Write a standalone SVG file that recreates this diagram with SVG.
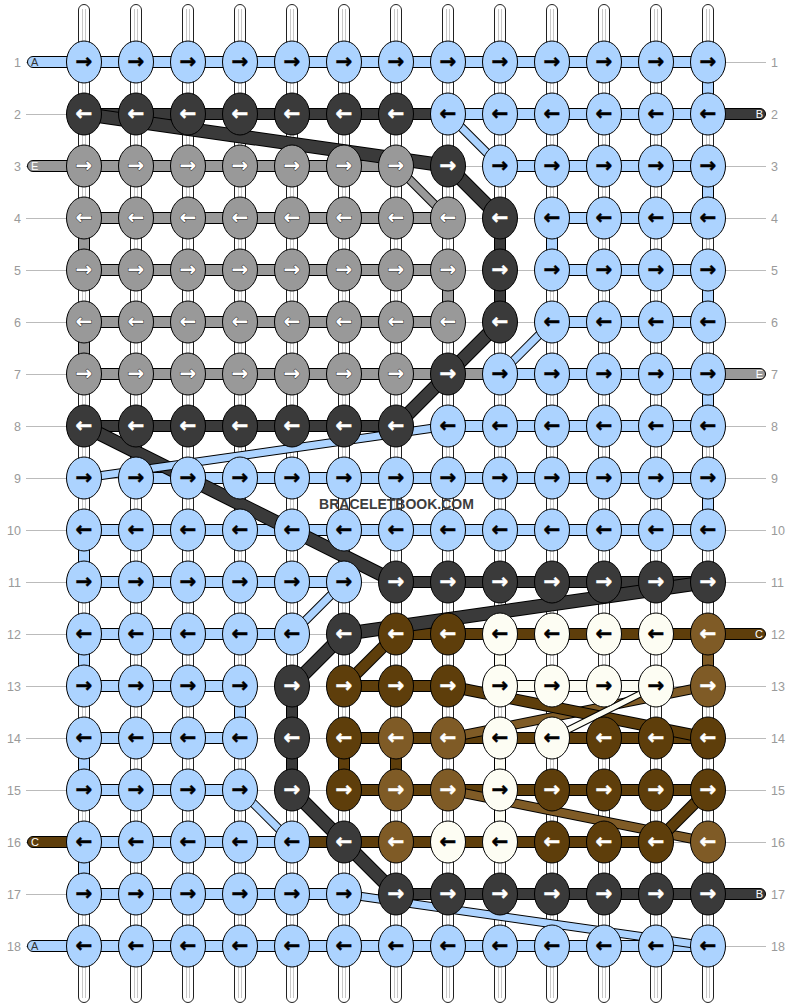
<svg xmlns="http://www.w3.org/2000/svg" width="792" height="1008" viewBox="0 0 792 1008">
<style>
.lbl{font-family:"Liberation Sans",Arial,sans-serif;font-size:12.5px;fill:#9a9a9a}
.lbl.l{text-anchor:end}
.rl{stroke:#bbb;stroke-width:1}
.st{fill:#fff;stroke:#222;stroke-width:1}
.si{stroke:#c8c8c8;stroke-width:1}
.bar{stroke:#000;stroke-width:1}
.cLB{fill:#acd3ff}.cD{fill:#3a3a3a}.cG{fill:#999}.cBR{fill:#5e3e0b}.cLBR{fill:#7f5b26}.cW{fill:#fdfdf3}
.dg path{fill:none;stroke-linecap:butt}
.o{stroke:#000}
.sLB{stroke:#acd3ff;stroke-width:7}.oLB{stroke-width:9}
.sD{stroke:#3a3a3a;stroke-width:12}.oD{stroke-width:14}
.sG{stroke:#999;stroke-width:7}.oG{stroke-width:9}
.sBR{stroke:#5e3e0b;stroke-width:10}.oBR{stroke-width:12}
.sLBR{stroke:#7f5b26;stroke-width:8}.oLBR{stroke-width:10}
.sW{stroke:#fdfdf3;stroke-width:5}.oW{stroke-width:7}
.k ellipse{stroke:#000;stroke-width:1}
.k text{font-family:"DejaVu Sans",sans-serif;font-weight:bold;font-size:20px;text-anchor:middle}
.lb ellipse{fill:#acd3ff}.lb text{fill:#000;stroke:#000;stroke-width:0.5}
.dk ellipse{fill:#3a3a3a}.dk text{fill:#fff;stroke:#fff;stroke-width:0.5}
.gr ellipse{fill:#999}.gr text{fill:#fff;stroke:#333;stroke-width:1;paint-order:stroke}
.br ellipse{fill:#5e3e0b}.br text{fill:#fff;stroke:#fff;stroke-width:0.5}
.lbr ellipse{fill:#7f5b26}.lbr text{fill:#fff;stroke:#fff;stroke-width:0.5}
.wh ellipse{fill:#fdfdf3}.wh text{fill:#000;stroke:#000;stroke-width:0.5}
.pl{font-family:"Liberation Sans",Arial,sans-serif;font-size:11px}
.pl.r{text-anchor:end}
.wm{font-family:"Liberation Sans",Arial,sans-serif;font-weight:bold;font-size:14px;fill:#3d3d3d;text-anchor:middle}
</style>
<rect width="792" height="1008" fill="#fff"/>
<g id="row-lines">
<path class="rl" d="M26 62.5H766M26 114.5H766M26 166.5H766M26 218.5H766M26 270.5H766M26 322.5H766M26 374.5H766M26 426.5H766M26 478.5H766M26 530.5H766M26 582.5H766M26 634.5H766M26 686.5H766M26 738.5H766M26 790.5H766M26 842.5H766M26 894.5H766M26 946.5H766"/>
</g>
<g id="row-numbers">
<text class="lbl l" x="21" y="66.5">1</text><text class="lbl" x="771" y="66.5">1</text>
<text class="lbl l" x="21" y="118.5">2</text><text class="lbl" x="771" y="118.5">2</text>
<text class="lbl l" x="21" y="170.5">3</text><text class="lbl" x="771" y="170.5">3</text>
<text class="lbl l" x="21" y="222.5">4</text><text class="lbl" x="771" y="222.5">4</text>
<text class="lbl l" x="21" y="274.5">5</text><text class="lbl" x="771" y="274.5">5</text>
<text class="lbl l" x="21" y="326.5">6</text><text class="lbl" x="771" y="326.5">6</text>
<text class="lbl l" x="21" y="378.5">7</text><text class="lbl" x="771" y="378.5">7</text>
<text class="lbl l" x="21" y="430.5">8</text><text class="lbl" x="771" y="430.5">8</text>
<text class="lbl l" x="21" y="482.5">9</text><text class="lbl" x="771" y="482.5">9</text>
<text class="lbl l" x="21" y="534.5">10</text><text class="lbl" x="771" y="534.5">10</text>
<text class="lbl l" x="21" y="586.5">11</text><text class="lbl" x="771" y="586.5">11</text>
<text class="lbl l" x="21" y="638.5">12</text><text class="lbl" x="771" y="638.5">12</text>
<text class="lbl l" x="21" y="690.5">13</text><text class="lbl" x="771" y="690.5">13</text>
<text class="lbl l" x="21" y="742.5">14</text><text class="lbl" x="771" y="742.5">14</text>
<text class="lbl l" x="21" y="794.5">15</text><text class="lbl" x="771" y="794.5">15</text>
<text class="lbl l" x="21" y="846.5">16</text><text class="lbl" x="771" y="846.5">16</text>
<text class="lbl l" x="21" y="898.5">17</text><text class="lbl" x="771" y="898.5">17</text>
<text class="lbl l" x="21" y="950.5">18</text><text class="lbl" x="771" y="950.5">18</text>
</g>
<g id="strands">
<rect class="st" x="78.5" y="4.5" width="11" height="998" rx="5.5"/><path class="si" d="M82.5 9V998M85.5 9V998"/>
<rect class="st" x="130.5" y="4.5" width="11" height="998" rx="5.5"/><path class="si" d="M134.5 9V998M137.5 9V998"/>
<rect class="st" x="182.5" y="4.5" width="11" height="998" rx="5.5"/><path class="si" d="M186.5 9V998M189.5 9V998"/>
<rect class="st" x="234.5" y="4.5" width="11" height="998" rx="5.5"/><path class="si" d="M238.5 9V998M241.5 9V998"/>
<rect class="st" x="286.5" y="4.5" width="11" height="998" rx="5.5"/><path class="si" d="M290.5 9V998M293.5 9V998"/>
<rect class="st" x="338.5" y="4.5" width="11" height="998" rx="5.5"/><path class="si" d="M342.5 9V998M345.5 9V998"/>
<rect class="st" x="390.5" y="4.5" width="11" height="998" rx="5.5"/><path class="si" d="M394.5 9V998M397.5 9V998"/>
<rect class="st" x="442.5" y="4.5" width="11" height="998" rx="5.5"/><path class="si" d="M446.5 9V998M449.5 9V998"/>
<rect class="st" x="494.5" y="4.5" width="11" height="998" rx="5.5"/><path class="si" d="M498.5 9V998M501.5 9V998"/>
<rect class="st" x="546.5" y="4.5" width="11" height="998" rx="5.5"/><path class="si" d="M550.5 9V998M553.5 9V998"/>
<rect class="st" x="598.5" y="4.5" width="11" height="998" rx="5.5"/><path class="si" d="M602.5 9V998M605.5 9V998"/>
<rect class="st" x="650.5" y="4.5" width="11" height="998" rx="5.5"/><path class="si" d="M654.5 9V998M657.5 9V998"/>
<rect class="st" x="702.5" y="4.5" width="11" height="998" rx="5.5"/><path class="si" d="M706.5 9V998M709.5 9V998"/>
</g>
<g id="connectors">
<g id="verticals">
<rect class="bar cLB" x="702.5" y="77" width="11" height="22"/>
<rect class="bar cLB" x="702.5" y="181" width="11" height="22"/>
<rect class="bar cLB" x="702.5" y="285" width="11" height="22"/>
<rect class="bar cLB" x="702.5" y="389" width="11" height="22"/>
<rect class="bar cLB" x="702.5" y="493" width="11" height="22"/>
<rect class="bar cLB" x="546.5" y="233" width="11" height="22"/>
<rect class="bar cLB" x="78.5" y="545" width="11" height="22"/>
<rect class="bar cLB" x="78.5" y="649" width="11" height="22"/>
<rect class="bar cLB" x="234.5" y="701" width="11" height="22"/>
<rect class="bar cLB" x="78.5" y="753" width="11" height="22"/>
<rect class="bar cLB" x="78.5" y="857" width="11" height="22"/>
<rect class="bar cG" x="78.5" y="233" width="11" height="22"/>
<rect class="bar cG" x="78.5" y="337" width="11" height="22"/>
<rect class="bar cG" x="442.5" y="285" width="11" height="22"/>
<rect class="bar cD" x="494.5" y="233" width="11" height="22"/>
<rect class="bar cD" x="494.5" y="285" width="11" height="22"/>
<rect class="bar cD" x="286.5" y="701" width="11" height="22"/>
<rect class="bar cD" x="286.5" y="753" width="11" height="22"/>
<rect class="bar cLBR" x="702.5" y="649" width="11" height="22"/>
<rect class="bar cBR" x="338.5" y="753" width="11" height="22"/>
<rect class="bar cBR" x="390.5" y="753" width="11" height="22"/>
<rect class="bar cW" x="494.5" y="649" width="11" height="22"/>
<rect class="bar cW" x="494.5" y="753" width="11" height="22"/>
<rect class="bar cW" x="494.5" y="805" width="11" height="22"/>
</g>
<g id="bars">
<rect class="bar cLB" x="84" y="56.5" width="624" height="11"/>
<rect class="bar cD" x="84" y="108.5" width="364" height="11"/>
<rect class="bar cLB" x="448" y="108.5" width="260" height="11"/>
<rect class="bar cG" x="84" y="160.5" width="312" height="11"/>
<rect class="bar cLB" x="500" y="160.5" width="208" height="11"/>
<rect class="bar cG" x="84" y="212.5" width="364" height="11"/>
<rect class="bar cLB" x="552" y="212.5" width="156" height="11"/>
<rect class="bar cG" x="84" y="264.5" width="364" height="11"/>
<rect class="bar cLB" x="552" y="264.5" width="156" height="11"/>
<rect class="bar cG" x="84" y="316.5" width="364" height="11"/>
<rect class="bar cLB" x="552" y="316.5" width="156" height="11"/>
<rect class="bar cG" x="84" y="368.5" width="416" height="11"/>
<rect class="bar cLB" x="500" y="368.5" width="208" height="11"/>
<rect class="bar cD" x="84" y="420.5" width="312" height="11"/>
<rect class="bar cLB" x="448" y="420.5" width="260" height="11"/>
<rect class="bar cLB" x="136" y="472.5" width="572" height="11"/>
<rect class="bar cLB" x="84" y="524.5" width="624" height="11"/>
<rect class="bar cLB" x="84" y="576.5" width="260" height="11"/>
<rect class="bar cD" x="396" y="576.5" width="312" height="11"/>
<rect class="bar cLB" x="84" y="628.5" width="208" height="11"/>
<rect class="bar cBR" x="396" y="628.5" width="312" height="11"/>
<rect class="bar cLB" x="84" y="680.5" width="156" height="11"/>
<rect class="bar cBR" x="344" y="680.5" width="104" height="11"/>
<rect class="bar cW" x="500" y="680.5" width="156" height="11"/>
<rect class="bar cLB" x="84" y="732.5" width="156" height="11"/>
<rect class="bar cBR" x="344" y="732.5" width="364" height="11"/>
<rect class="bar cLB" x="84" y="784.5" width="156" height="11"/>
<rect class="bar cBR" x="344" y="784.5" width="364" height="11"/>
<rect class="bar cLB" x="84" y="836.5" width="208" height="11"/>
<rect class="bar cBR" x="292" y="836.5" width="364" height="11"/>
<rect class="bar cLB" x="84" y="888.5" width="260" height="11"/>
<rect class="bar cD" x="396" y="888.5" width="312" height="11"/>
<rect class="bar cLB" x="84" y="940.5" width="624" height="11"/>
</g>
<g id="thread-ends">
<path class="bar cLB" d="M84 56.5H33a5.5 5.5 0 0 0 0 11H84Z"/><text class="pl" x="31" y="66" fill="#333">A</text>
<path class="bar cD" d="M708 108.5H760a5.5 5.5 0 0 1 0 11H708Z"/><text class="pl r" x="763" y="118" fill="#fff">B</text>
<path class="bar cG" d="M84 160.5H33a5.5 5.5 0 0 0 0 11H84Z"/><text class="pl" x="31" y="170" fill="#fff">E</text>
<path class="bar cG" d="M708 368.5H760a5.5 5.5 0 0 1 0 11H708Z"/><text class="pl r" x="763" y="378" fill="#fff">E</text>
<path class="bar cBR" d="M708 628.5H760a5.5 5.5 0 0 1 0 11H708Z"/><text class="pl r" x="763" y="638" fill="#fff">C</text>
<path class="bar cBR" d="M84 836.5H33a5.5 5.5 0 0 0 0 11H84Z"/><text class="pl" x="31" y="846" fill="#fff">C</text>
<path class="bar cD" d="M708 888.5H760a5.5 5.5 0 0 1 0 11H708Z"/><text class="pl r" x="763" y="898" fill="#fff">B</text>
<path class="bar cLB" d="M84 940.5H33a5.5 5.5 0 0 0 0 11H84Z"/><text class="pl" x="31" y="950" fill="#333">A</text>
</g>
<g id="diagonals" class="dg">
<path class="o oD" d="M84 114L448 166"/><path class="sD" d="M84 114L448 166"/>
<path class="o oLB" d="M448 114L500 166"/><path class="sLB" d="M448 114L500 166"/>
<path class="o oG" d="M396 166L448 218"/><path class="sG" d="M396 166L448 218"/>
<path class="o oD" d="M448 166L500 218"/><path class="sD" d="M448 166L500 218"/>
<path class="o oD" d="M500 322L448 374"/><path class="sD" d="M500 322L448 374"/>
<path class="o oLB" d="M552 322L500 374"/><path class="sLB" d="M552 322L500 374"/>
<path class="o oD" d="M448 374L396 426"/><path class="sD" d="M448 374L396 426"/>
<path class="o oD" d="M84 426L396 582"/><path class="sD" d="M84 426L396 582"/>
<path class="o oLB" d="M448 426L84 478"/><path class="sLB" d="M448 426L84 478"/>
<path class="o oLB" d="M344 582L292 634"/><path class="sLB" d="M344 582L292 634"/>
<path class="o oD" d="M708 582L344 634"/><path class="sD" d="M708 582L344 634"/>
<path class="o oD" d="M344 634L292 686"/><path class="sD" d="M344 634L292 686"/>
<path class="o oBR" d="M396 634L344 686"/><path class="sBR" d="M396 634L344 686"/>
<path class="o oLBR" d="M708 686L448 738"/><path class="sLBR" d="M708 686L448 738"/>
<path class="o oBR" d="M448 686L708 738"/><path class="sBR" d="M448 686L708 738"/>
<path class="o oW" d="M656 686L552 738"/><path class="sW" d="M656 686L552 738"/>
<path class="o oLBR" d="M448 790L708 842"/><path class="sLBR" d="M448 790L708 842"/>
<path class="o oBR" d="M708 790L656 842"/><path class="sBR" d="M708 790L656 842"/>
<path class="o oLB" d="M240 790L292 842"/><path class="sLB" d="M240 790L292 842"/>
<path class="o oD" d="M292 790L344 842"/><path class="sD" d="M292 790L344 842"/>
<path class="o oD" d="M344 842L396 894"/><path class="sD" d="M344 842L396 894"/>
<path class="o oLB" d="M344 894L708 946"/><path class="sLB" d="M344 894L708 946"/>
</g>
</g>
<g id="knots">
<g id="k1-1" class="k lb"><ellipse cx="84" cy="62" rx="17.5" ry="21"/><text x="84" y="68">→</text></g>
<g id="k1-2" class="k lb"><ellipse cx="136" cy="62" rx="17.5" ry="21"/><text x="136" y="68">→</text></g>
<g id="k1-3" class="k lb"><ellipse cx="188" cy="62" rx="17.5" ry="21"/><text x="188" y="68">→</text></g>
<g id="k1-4" class="k lb"><ellipse cx="240" cy="62" rx="17.5" ry="21"/><text x="240" y="68">→</text></g>
<g id="k1-5" class="k lb"><ellipse cx="292" cy="62" rx="17.5" ry="21"/><text x="292" y="68">→</text></g>
<g id="k1-6" class="k lb"><ellipse cx="344" cy="62" rx="17.5" ry="21"/><text x="344" y="68">→</text></g>
<g id="k1-7" class="k lb"><ellipse cx="396" cy="62" rx="17.5" ry="21"/><text x="396" y="68">→</text></g>
<g id="k1-8" class="k lb"><ellipse cx="448" cy="62" rx="17.5" ry="21"/><text x="448" y="68">→</text></g>
<g id="k1-9" class="k lb"><ellipse cx="500" cy="62" rx="17.5" ry="21"/><text x="500" y="68">→</text></g>
<g id="k1-10" class="k lb"><ellipse cx="552" cy="62" rx="17.5" ry="21"/><text x="552" y="68">→</text></g>
<g id="k1-11" class="k lb"><ellipse cx="604" cy="62" rx="17.5" ry="21"/><text x="604" y="68">→</text></g>
<g id="k1-12" class="k lb"><ellipse cx="656" cy="62" rx="17.5" ry="21"/><text x="656" y="68">→</text></g>
<g id="k1-13" class="k lb"><ellipse cx="708" cy="62" rx="17.5" ry="21"/><text x="708" y="68">→</text></g>
<g id="k2-1" class="k dk"><ellipse cx="84" cy="114" rx="17.5" ry="21"/><text x="84" y="120">←</text></g>
<g id="k2-2" class="k dk"><ellipse cx="136" cy="114" rx="17.5" ry="21"/><text x="136" y="120">←</text></g>
<g id="k2-3" class="k dk"><ellipse cx="188" cy="114" rx="17.5" ry="21"/><text x="188" y="120">←</text></g>
<g id="k2-4" class="k dk"><ellipse cx="240" cy="114" rx="17.5" ry="21"/><text x="240" y="120">←</text></g>
<g id="k2-5" class="k dk"><ellipse cx="292" cy="114" rx="17.5" ry="21"/><text x="292" y="120">←</text></g>
<g id="k2-6" class="k dk"><ellipse cx="344" cy="114" rx="17.5" ry="21"/><text x="344" y="120">←</text></g>
<g id="k2-7" class="k dk"><ellipse cx="396" cy="114" rx="17.5" ry="21"/><text x="396" y="120">←</text></g>
<g id="k2-8" class="k lb"><ellipse cx="448" cy="114" rx="17.5" ry="21"/><text x="448" y="120">←</text></g>
<g id="k2-9" class="k lb"><ellipse cx="500" cy="114" rx="17.5" ry="21"/><text x="500" y="120">←</text></g>
<g id="k2-10" class="k lb"><ellipse cx="552" cy="114" rx="17.5" ry="21"/><text x="552" y="120">←</text></g>
<g id="k2-11" class="k lb"><ellipse cx="604" cy="114" rx="17.5" ry="21"/><text x="604" y="120">←</text></g>
<g id="k2-12" class="k lb"><ellipse cx="656" cy="114" rx="17.5" ry="21"/><text x="656" y="120">←</text></g>
<g id="k2-13" class="k lb"><ellipse cx="708" cy="114" rx="17.5" ry="21"/><text x="708" y="120">←</text></g>
<g id="k3-1" class="k gr"><ellipse cx="84" cy="166" rx="17.5" ry="21"/><text x="84" y="172">→</text></g>
<g id="k3-2" class="k gr"><ellipse cx="136" cy="166" rx="17.5" ry="21"/><text x="136" y="172">→</text></g>
<g id="k3-3" class="k gr"><ellipse cx="188" cy="166" rx="17.5" ry="21"/><text x="188" y="172">→</text></g>
<g id="k3-4" class="k gr"><ellipse cx="240" cy="166" rx="17.5" ry="21"/><text x="240" y="172">→</text></g>
<g id="k3-5" class="k gr"><ellipse cx="292" cy="166" rx="17.5" ry="21"/><text x="292" y="172">→</text></g>
<g id="k3-6" class="k gr"><ellipse cx="344" cy="166" rx="17.5" ry="21"/><text x="344" y="172">→</text></g>
<g id="k3-7" class="k gr"><ellipse cx="396" cy="166" rx="17.5" ry="21"/><text x="396" y="172">→</text></g>
<g id="k3-8" class="k dk"><ellipse cx="448" cy="166" rx="17.5" ry="21"/><text x="448" y="172">→</text></g>
<g id="k3-9" class="k lb"><ellipse cx="500" cy="166" rx="17.5" ry="21"/><text x="500" y="172">→</text></g>
<g id="k3-10" class="k lb"><ellipse cx="552" cy="166" rx="17.5" ry="21"/><text x="552" y="172">→</text></g>
<g id="k3-11" class="k lb"><ellipse cx="604" cy="166" rx="17.5" ry="21"/><text x="604" y="172">→</text></g>
<g id="k3-12" class="k lb"><ellipse cx="656" cy="166" rx="17.5" ry="21"/><text x="656" y="172">→</text></g>
<g id="k3-13" class="k lb"><ellipse cx="708" cy="166" rx="17.5" ry="21"/><text x="708" y="172">→</text></g>
<g id="k4-1" class="k gr"><ellipse cx="84" cy="218" rx="17.5" ry="21"/><text x="84" y="224">←</text></g>
<g id="k4-2" class="k gr"><ellipse cx="136" cy="218" rx="17.5" ry="21"/><text x="136" y="224">←</text></g>
<g id="k4-3" class="k gr"><ellipse cx="188" cy="218" rx="17.5" ry="21"/><text x="188" y="224">←</text></g>
<g id="k4-4" class="k gr"><ellipse cx="240" cy="218" rx="17.5" ry="21"/><text x="240" y="224">←</text></g>
<g id="k4-5" class="k gr"><ellipse cx="292" cy="218" rx="17.5" ry="21"/><text x="292" y="224">←</text></g>
<g id="k4-6" class="k gr"><ellipse cx="344" cy="218" rx="17.5" ry="21"/><text x="344" y="224">←</text></g>
<g id="k4-7" class="k gr"><ellipse cx="396" cy="218" rx="17.5" ry="21"/><text x="396" y="224">←</text></g>
<g id="k4-8" class="k gr"><ellipse cx="448" cy="218" rx="17.5" ry="21"/><text x="448" y="224">←</text></g>
<g id="k4-9" class="k dk"><ellipse cx="500" cy="218" rx="17.5" ry="21"/><text x="500" y="224">←</text></g>
<g id="k4-10" class="k lb"><ellipse cx="552" cy="218" rx="17.5" ry="21"/><text x="552" y="224">←</text></g>
<g id="k4-11" class="k lb"><ellipse cx="604" cy="218" rx="17.5" ry="21"/><text x="604" y="224">←</text></g>
<g id="k4-12" class="k lb"><ellipse cx="656" cy="218" rx="17.5" ry="21"/><text x="656" y="224">←</text></g>
<g id="k4-13" class="k lb"><ellipse cx="708" cy="218" rx="17.5" ry="21"/><text x="708" y="224">←</text></g>
<g id="k5-1" class="k gr"><ellipse cx="84" cy="270" rx="17.5" ry="21"/><text x="84" y="276">→</text></g>
<g id="k5-2" class="k gr"><ellipse cx="136" cy="270" rx="17.5" ry="21"/><text x="136" y="276">→</text></g>
<g id="k5-3" class="k gr"><ellipse cx="188" cy="270" rx="17.5" ry="21"/><text x="188" y="276">→</text></g>
<g id="k5-4" class="k gr"><ellipse cx="240" cy="270" rx="17.5" ry="21"/><text x="240" y="276">→</text></g>
<g id="k5-5" class="k gr"><ellipse cx="292" cy="270" rx="17.5" ry="21"/><text x="292" y="276">→</text></g>
<g id="k5-6" class="k gr"><ellipse cx="344" cy="270" rx="17.5" ry="21"/><text x="344" y="276">→</text></g>
<g id="k5-7" class="k gr"><ellipse cx="396" cy="270" rx="17.5" ry="21"/><text x="396" y="276">→</text></g>
<g id="k5-8" class="k gr"><ellipse cx="448" cy="270" rx="17.5" ry="21"/><text x="448" y="276">→</text></g>
<g id="k5-9" class="k dk"><ellipse cx="500" cy="270" rx="17.5" ry="21"/><text x="500" y="276">→</text></g>
<g id="k5-10" class="k lb"><ellipse cx="552" cy="270" rx="17.5" ry="21"/><text x="552" y="276">→</text></g>
<g id="k5-11" class="k lb"><ellipse cx="604" cy="270" rx="17.5" ry="21"/><text x="604" y="276">→</text></g>
<g id="k5-12" class="k lb"><ellipse cx="656" cy="270" rx="17.5" ry="21"/><text x="656" y="276">→</text></g>
<g id="k5-13" class="k lb"><ellipse cx="708" cy="270" rx="17.5" ry="21"/><text x="708" y="276">→</text></g>
<g id="k6-1" class="k gr"><ellipse cx="84" cy="322" rx="17.5" ry="21"/><text x="84" y="328">←</text></g>
<g id="k6-2" class="k gr"><ellipse cx="136" cy="322" rx="17.5" ry="21"/><text x="136" y="328">←</text></g>
<g id="k6-3" class="k gr"><ellipse cx="188" cy="322" rx="17.5" ry="21"/><text x="188" y="328">←</text></g>
<g id="k6-4" class="k gr"><ellipse cx="240" cy="322" rx="17.5" ry="21"/><text x="240" y="328">←</text></g>
<g id="k6-5" class="k gr"><ellipse cx="292" cy="322" rx="17.5" ry="21"/><text x="292" y="328">←</text></g>
<g id="k6-6" class="k gr"><ellipse cx="344" cy="322" rx="17.5" ry="21"/><text x="344" y="328">←</text></g>
<g id="k6-7" class="k gr"><ellipse cx="396" cy="322" rx="17.5" ry="21"/><text x="396" y="328">←</text></g>
<g id="k6-8" class="k gr"><ellipse cx="448" cy="322" rx="17.5" ry="21"/><text x="448" y="328">←</text></g>
<g id="k6-9" class="k dk"><ellipse cx="500" cy="322" rx="17.5" ry="21"/><text x="500" y="328">←</text></g>
<g id="k6-10" class="k lb"><ellipse cx="552" cy="322" rx="17.5" ry="21"/><text x="552" y="328">←</text></g>
<g id="k6-11" class="k lb"><ellipse cx="604" cy="322" rx="17.5" ry="21"/><text x="604" y="328">←</text></g>
<g id="k6-12" class="k lb"><ellipse cx="656" cy="322" rx="17.5" ry="21"/><text x="656" y="328">←</text></g>
<g id="k6-13" class="k lb"><ellipse cx="708" cy="322" rx="17.5" ry="21"/><text x="708" y="328">←</text></g>
<g id="k7-1" class="k gr"><ellipse cx="84" cy="374" rx="17.5" ry="21"/><text x="84" y="380">→</text></g>
<g id="k7-2" class="k gr"><ellipse cx="136" cy="374" rx="17.5" ry="21"/><text x="136" y="380">→</text></g>
<g id="k7-3" class="k gr"><ellipse cx="188" cy="374" rx="17.5" ry="21"/><text x="188" y="380">→</text></g>
<g id="k7-4" class="k gr"><ellipse cx="240" cy="374" rx="17.5" ry="21"/><text x="240" y="380">→</text></g>
<g id="k7-5" class="k gr"><ellipse cx="292" cy="374" rx="17.5" ry="21"/><text x="292" y="380">→</text></g>
<g id="k7-6" class="k gr"><ellipse cx="344" cy="374" rx="17.5" ry="21"/><text x="344" y="380">→</text></g>
<g id="k7-7" class="k gr"><ellipse cx="396" cy="374" rx="17.5" ry="21"/><text x="396" y="380">→</text></g>
<g id="k7-8" class="k dk"><ellipse cx="448" cy="374" rx="17.5" ry="21"/><text x="448" y="380">→</text></g>
<g id="k7-9" class="k lb"><ellipse cx="500" cy="374" rx="17.5" ry="21"/><text x="500" y="380">→</text></g>
<g id="k7-10" class="k lb"><ellipse cx="552" cy="374" rx="17.5" ry="21"/><text x="552" y="380">→</text></g>
<g id="k7-11" class="k lb"><ellipse cx="604" cy="374" rx="17.5" ry="21"/><text x="604" y="380">→</text></g>
<g id="k7-12" class="k lb"><ellipse cx="656" cy="374" rx="17.5" ry="21"/><text x="656" y="380">→</text></g>
<g id="k7-13" class="k lb"><ellipse cx="708" cy="374" rx="17.5" ry="21"/><text x="708" y="380">→</text></g>
<g id="k8-1" class="k dk"><ellipse cx="84" cy="426" rx="17.5" ry="21"/><text x="84" y="432">←</text></g>
<g id="k8-2" class="k dk"><ellipse cx="136" cy="426" rx="17.5" ry="21"/><text x="136" y="432">←</text></g>
<g id="k8-3" class="k dk"><ellipse cx="188" cy="426" rx="17.5" ry="21"/><text x="188" y="432">←</text></g>
<g id="k8-4" class="k dk"><ellipse cx="240" cy="426" rx="17.5" ry="21"/><text x="240" y="432">←</text></g>
<g id="k8-5" class="k dk"><ellipse cx="292" cy="426" rx="17.5" ry="21"/><text x="292" y="432">←</text></g>
<g id="k8-6" class="k dk"><ellipse cx="344" cy="426" rx="17.5" ry="21"/><text x="344" y="432">←</text></g>
<g id="k8-7" class="k dk"><ellipse cx="396" cy="426" rx="17.5" ry="21"/><text x="396" y="432">←</text></g>
<g id="k8-8" class="k lb"><ellipse cx="448" cy="426" rx="17.5" ry="21"/><text x="448" y="432">←</text></g>
<g id="k8-9" class="k lb"><ellipse cx="500" cy="426" rx="17.5" ry="21"/><text x="500" y="432">←</text></g>
<g id="k8-10" class="k lb"><ellipse cx="552" cy="426" rx="17.5" ry="21"/><text x="552" y="432">←</text></g>
<g id="k8-11" class="k lb"><ellipse cx="604" cy="426" rx="17.5" ry="21"/><text x="604" y="432">←</text></g>
<g id="k8-12" class="k lb"><ellipse cx="656" cy="426" rx="17.5" ry="21"/><text x="656" y="432">←</text></g>
<g id="k8-13" class="k lb"><ellipse cx="708" cy="426" rx="17.5" ry="21"/><text x="708" y="432">←</text></g>
<g id="k9-1" class="k lb"><ellipse cx="84" cy="478" rx="17.5" ry="21"/><text x="84" y="484">→</text></g>
<g id="k9-2" class="k lb"><ellipse cx="136" cy="478" rx="17.5" ry="21"/><text x="136" y="484">→</text></g>
<g id="k9-3" class="k lb"><ellipse cx="188" cy="478" rx="17.5" ry="21"/><text x="188" y="484">→</text></g>
<g id="k9-4" class="k lb"><ellipse cx="240" cy="478" rx="17.5" ry="21"/><text x="240" y="484">→</text></g>
<g id="k9-5" class="k lb"><ellipse cx="292" cy="478" rx="17.5" ry="21"/><text x="292" y="484">→</text></g>
<g id="k9-6" class="k lb"><ellipse cx="344" cy="478" rx="17.5" ry="21"/><text x="344" y="484">→</text></g>
<g id="k9-7" class="k lb"><ellipse cx="396" cy="478" rx="17.5" ry="21"/><text x="396" y="484">→</text></g>
<g id="k9-8" class="k lb"><ellipse cx="448" cy="478" rx="17.5" ry="21"/><text x="448" y="484">→</text></g>
<g id="k9-9" class="k lb"><ellipse cx="500" cy="478" rx="17.5" ry="21"/><text x="500" y="484">→</text></g>
<g id="k9-10" class="k lb"><ellipse cx="552" cy="478" rx="17.5" ry="21"/><text x="552" y="484">→</text></g>
<g id="k9-11" class="k lb"><ellipse cx="604" cy="478" rx="17.5" ry="21"/><text x="604" y="484">→</text></g>
<g id="k9-12" class="k lb"><ellipse cx="656" cy="478" rx="17.5" ry="21"/><text x="656" y="484">→</text></g>
<g id="k9-13" class="k lb"><ellipse cx="708" cy="478" rx="17.5" ry="21"/><text x="708" y="484">→</text></g>
<g id="k10-1" class="k lb"><ellipse cx="84" cy="530" rx="17.5" ry="21"/><text x="84" y="536">←</text></g>
<g id="k10-2" class="k lb"><ellipse cx="136" cy="530" rx="17.5" ry="21"/><text x="136" y="536">←</text></g>
<g id="k10-3" class="k lb"><ellipse cx="188" cy="530" rx="17.5" ry="21"/><text x="188" y="536">←</text></g>
<g id="k10-4" class="k lb"><ellipse cx="240" cy="530" rx="17.5" ry="21"/><text x="240" y="536">←</text></g>
<g id="k10-5" class="k lb"><ellipse cx="292" cy="530" rx="17.5" ry="21"/><text x="292" y="536">←</text></g>
<g id="k10-6" class="k lb"><ellipse cx="344" cy="530" rx="17.5" ry="21"/><text x="344" y="536">←</text></g>
<g id="k10-7" class="k lb"><ellipse cx="396" cy="530" rx="17.5" ry="21"/><text x="396" y="536">←</text></g>
<g id="k10-8" class="k lb"><ellipse cx="448" cy="530" rx="17.5" ry="21"/><text x="448" y="536">←</text></g>
<g id="k10-9" class="k lb"><ellipse cx="500" cy="530" rx="17.5" ry="21"/><text x="500" y="536">←</text></g>
<g id="k10-10" class="k lb"><ellipse cx="552" cy="530" rx="17.5" ry="21"/><text x="552" y="536">←</text></g>
<g id="k10-11" class="k lb"><ellipse cx="604" cy="530" rx="17.5" ry="21"/><text x="604" y="536">←</text></g>
<g id="k10-12" class="k lb"><ellipse cx="656" cy="530" rx="17.5" ry="21"/><text x="656" y="536">←</text></g>
<g id="k10-13" class="k lb"><ellipse cx="708" cy="530" rx="17.5" ry="21"/><text x="708" y="536">←</text></g>
<g id="k11-1" class="k lb"><ellipse cx="84" cy="582" rx="17.5" ry="21"/><text x="84" y="588">→</text></g>
<g id="k11-2" class="k lb"><ellipse cx="136" cy="582" rx="17.5" ry="21"/><text x="136" y="588">→</text></g>
<g id="k11-3" class="k lb"><ellipse cx="188" cy="582" rx="17.5" ry="21"/><text x="188" y="588">→</text></g>
<g id="k11-4" class="k lb"><ellipse cx="240" cy="582" rx="17.5" ry="21"/><text x="240" y="588">→</text></g>
<g id="k11-5" class="k lb"><ellipse cx="292" cy="582" rx="17.5" ry="21"/><text x="292" y="588">→</text></g>
<g id="k11-6" class="k lb"><ellipse cx="344" cy="582" rx="17.5" ry="21"/><text x="344" y="588">→</text></g>
<g id="k11-7" class="k dk"><ellipse cx="396" cy="582" rx="17.5" ry="21"/><text x="396" y="588">→</text></g>
<g id="k11-8" class="k dk"><ellipse cx="448" cy="582" rx="17.5" ry="21"/><text x="448" y="588">→</text></g>
<g id="k11-9" class="k dk"><ellipse cx="500" cy="582" rx="17.5" ry="21"/><text x="500" y="588">→</text></g>
<g id="k11-10" class="k dk"><ellipse cx="552" cy="582" rx="17.5" ry="21"/><text x="552" y="588">→</text></g>
<g id="k11-11" class="k dk"><ellipse cx="604" cy="582" rx="17.5" ry="21"/><text x="604" y="588">→</text></g>
<g id="k11-12" class="k dk"><ellipse cx="656" cy="582" rx="17.5" ry="21"/><text x="656" y="588">→</text></g>
<g id="k11-13" class="k dk"><ellipse cx="708" cy="582" rx="17.5" ry="21"/><text x="708" y="588">→</text></g>
<g id="k12-1" class="k lb"><ellipse cx="84" cy="634" rx="17.5" ry="21"/><text x="84" y="640">←</text></g>
<g id="k12-2" class="k lb"><ellipse cx="136" cy="634" rx="17.5" ry="21"/><text x="136" y="640">←</text></g>
<g id="k12-3" class="k lb"><ellipse cx="188" cy="634" rx="17.5" ry="21"/><text x="188" y="640">←</text></g>
<g id="k12-4" class="k lb"><ellipse cx="240" cy="634" rx="17.5" ry="21"/><text x="240" y="640">←</text></g>
<g id="k12-5" class="k lb"><ellipse cx="292" cy="634" rx="17.5" ry="21"/><text x="292" y="640">←</text></g>
<g id="k12-6" class="k dk"><ellipse cx="344" cy="634" rx="17.5" ry="21"/><text x="344" y="640">←</text></g>
<g id="k12-7" class="k br"><ellipse cx="396" cy="634" rx="17.5" ry="21"/><text x="396" y="640">←</text></g>
<g id="k12-8" class="k br"><ellipse cx="448" cy="634" rx="17.5" ry="21"/><text x="448" y="640">←</text></g>
<g id="k12-9" class="k wh"><ellipse cx="500" cy="634" rx="17.5" ry="21"/><text x="500" y="640">←</text></g>
<g id="k12-10" class="k wh"><ellipse cx="552" cy="634" rx="17.5" ry="21"/><text x="552" y="640">←</text></g>
<g id="k12-11" class="k wh"><ellipse cx="604" cy="634" rx="17.5" ry="21"/><text x="604" y="640">←</text></g>
<g id="k12-12" class="k wh"><ellipse cx="656" cy="634" rx="17.5" ry="21"/><text x="656" y="640">←</text></g>
<g id="k12-13" class="k lbr"><ellipse cx="708" cy="634" rx="17.5" ry="21"/><text x="708" y="640">←</text></g>
<g id="k13-1" class="k lb"><ellipse cx="84" cy="686" rx="17.5" ry="21"/><text x="84" y="692">→</text></g>
<g id="k13-2" class="k lb"><ellipse cx="136" cy="686" rx="17.5" ry="21"/><text x="136" y="692">→</text></g>
<g id="k13-3" class="k lb"><ellipse cx="188" cy="686" rx="17.5" ry="21"/><text x="188" y="692">→</text></g>
<g id="k13-4" class="k lb"><ellipse cx="240" cy="686" rx="17.5" ry="21"/><text x="240" y="692">→</text></g>
<g id="k13-5" class="k dk"><ellipse cx="292" cy="686" rx="17.5" ry="21"/><text x="292" y="692">→</text></g>
<g id="k13-6" class="k br"><ellipse cx="344" cy="686" rx="17.5" ry="21"/><text x="344" y="692">→</text></g>
<g id="k13-7" class="k br"><ellipse cx="396" cy="686" rx="17.5" ry="21"/><text x="396" y="692">→</text></g>
<g id="k13-8" class="k br"><ellipse cx="448" cy="686" rx="17.5" ry="21"/><text x="448" y="692">→</text></g>
<g id="k13-9" class="k wh"><ellipse cx="500" cy="686" rx="17.5" ry="21"/><text x="500" y="692">→</text></g>
<g id="k13-10" class="k wh"><ellipse cx="552" cy="686" rx="17.5" ry="21"/><text x="552" y="692">→</text></g>
<g id="k13-11" class="k wh"><ellipse cx="604" cy="686" rx="17.5" ry="21"/><text x="604" y="692">→</text></g>
<g id="k13-12" class="k wh"><ellipse cx="656" cy="686" rx="17.5" ry="21"/><text x="656" y="692">→</text></g>
<g id="k13-13" class="k lbr"><ellipse cx="708" cy="686" rx="17.5" ry="21"/><text x="708" y="692">→</text></g>
<g id="k14-1" class="k lb"><ellipse cx="84" cy="738" rx="17.5" ry="21"/><text x="84" y="744">←</text></g>
<g id="k14-2" class="k lb"><ellipse cx="136" cy="738" rx="17.5" ry="21"/><text x="136" y="744">←</text></g>
<g id="k14-3" class="k lb"><ellipse cx="188" cy="738" rx="17.5" ry="21"/><text x="188" y="744">←</text></g>
<g id="k14-4" class="k lb"><ellipse cx="240" cy="738" rx="17.5" ry="21"/><text x="240" y="744">←</text></g>
<g id="k14-5" class="k dk"><ellipse cx="292" cy="738" rx="17.5" ry="21"/><text x="292" y="744">←</text></g>
<g id="k14-6" class="k br"><ellipse cx="344" cy="738" rx="17.5" ry="21"/><text x="344" y="744">←</text></g>
<g id="k14-7" class="k lbr"><ellipse cx="396" cy="738" rx="17.5" ry="21"/><text x="396" y="744">←</text></g>
<g id="k14-8" class="k lbr"><ellipse cx="448" cy="738" rx="17.5" ry="21"/><text x="448" y="744">←</text></g>
<g id="k14-9" class="k wh"><ellipse cx="500" cy="738" rx="17.5" ry="21"/><text x="500" y="744">←</text></g>
<g id="k14-10" class="k wh"><ellipse cx="552" cy="738" rx="17.5" ry="21"/><text x="552" y="744">←</text></g>
<g id="k14-11" class="k br"><ellipse cx="604" cy="738" rx="17.5" ry="21"/><text x="604" y="744">←</text></g>
<g id="k14-12" class="k br"><ellipse cx="656" cy="738" rx="17.5" ry="21"/><text x="656" y="744">←</text></g>
<g id="k14-13" class="k br"><ellipse cx="708" cy="738" rx="17.5" ry="21"/><text x="708" y="744">←</text></g>
<g id="k15-1" class="k lb"><ellipse cx="84" cy="790" rx="17.5" ry="21"/><text x="84" y="796">→</text></g>
<g id="k15-2" class="k lb"><ellipse cx="136" cy="790" rx="17.5" ry="21"/><text x="136" y="796">→</text></g>
<g id="k15-3" class="k lb"><ellipse cx="188" cy="790" rx="17.5" ry="21"/><text x="188" y="796">→</text></g>
<g id="k15-4" class="k lb"><ellipse cx="240" cy="790" rx="17.5" ry="21"/><text x="240" y="796">→</text></g>
<g id="k15-5" class="k dk"><ellipse cx="292" cy="790" rx="17.5" ry="21"/><text x="292" y="796">→</text></g>
<g id="k15-6" class="k br"><ellipse cx="344" cy="790" rx="17.5" ry="21"/><text x="344" y="796">→</text></g>
<g id="k15-7" class="k lbr"><ellipse cx="396" cy="790" rx="17.5" ry="21"/><text x="396" y="796">→</text></g>
<g id="k15-8" class="k lbr"><ellipse cx="448" cy="790" rx="17.5" ry="21"/><text x="448" y="796">→</text></g>
<g id="k15-9" class="k wh"><ellipse cx="500" cy="790" rx="17.5" ry="21"/><text x="500" y="796">→</text></g>
<g id="k15-10" class="k br"><ellipse cx="552" cy="790" rx="17.5" ry="21"/><text x="552" y="796">→</text></g>
<g id="k15-11" class="k br"><ellipse cx="604" cy="790" rx="17.5" ry="21"/><text x="604" y="796">→</text></g>
<g id="k15-12" class="k br"><ellipse cx="656" cy="790" rx="17.5" ry="21"/><text x="656" y="796">→</text></g>
<g id="k15-13" class="k br"><ellipse cx="708" cy="790" rx="17.5" ry="21"/><text x="708" y="796">→</text></g>
<g id="k16-1" class="k lb"><ellipse cx="84" cy="842" rx="17.5" ry="21"/><text x="84" y="848">←</text></g>
<g id="k16-2" class="k lb"><ellipse cx="136" cy="842" rx="17.5" ry="21"/><text x="136" y="848">←</text></g>
<g id="k16-3" class="k lb"><ellipse cx="188" cy="842" rx="17.5" ry="21"/><text x="188" y="848">←</text></g>
<g id="k16-4" class="k lb"><ellipse cx="240" cy="842" rx="17.5" ry="21"/><text x="240" y="848">←</text></g>
<g id="k16-5" class="k lb"><ellipse cx="292" cy="842" rx="17.5" ry="21"/><text x="292" y="848">←</text></g>
<g id="k16-6" class="k dk"><ellipse cx="344" cy="842" rx="17.5" ry="21"/><text x="344" y="848">←</text></g>
<g id="k16-7" class="k lbr"><ellipse cx="396" cy="842" rx="17.5" ry="21"/><text x="396" y="848">←</text></g>
<g id="k16-8" class="k wh"><ellipse cx="448" cy="842" rx="17.5" ry="21"/><text x="448" y="848">←</text></g>
<g id="k16-9" class="k wh"><ellipse cx="500" cy="842" rx="17.5" ry="21"/><text x="500" y="848">←</text></g>
<g id="k16-10" class="k br"><ellipse cx="552" cy="842" rx="17.5" ry="21"/><text x="552" y="848">←</text></g>
<g id="k16-11" class="k br"><ellipse cx="604" cy="842" rx="17.5" ry="21"/><text x="604" y="848">←</text></g>
<g id="k16-12" class="k br"><ellipse cx="656" cy="842" rx="17.5" ry="21"/><text x="656" y="848">←</text></g>
<g id="k16-13" class="k lbr"><ellipse cx="708" cy="842" rx="17.5" ry="21"/><text x="708" y="848">←</text></g>
<g id="k17-1" class="k lb"><ellipse cx="84" cy="894" rx="17.5" ry="21"/><text x="84" y="900">→</text></g>
<g id="k17-2" class="k lb"><ellipse cx="136" cy="894" rx="17.5" ry="21"/><text x="136" y="900">→</text></g>
<g id="k17-3" class="k lb"><ellipse cx="188" cy="894" rx="17.5" ry="21"/><text x="188" y="900">→</text></g>
<g id="k17-4" class="k lb"><ellipse cx="240" cy="894" rx="17.5" ry="21"/><text x="240" y="900">→</text></g>
<g id="k17-5" class="k lb"><ellipse cx="292" cy="894" rx="17.5" ry="21"/><text x="292" y="900">→</text></g>
<g id="k17-6" class="k lb"><ellipse cx="344" cy="894" rx="17.5" ry="21"/><text x="344" y="900">→</text></g>
<g id="k17-7" class="k dk"><ellipse cx="396" cy="894" rx="17.5" ry="21"/><text x="396" y="900">→</text></g>
<g id="k17-8" class="k dk"><ellipse cx="448" cy="894" rx="17.5" ry="21"/><text x="448" y="900">→</text></g>
<g id="k17-9" class="k dk"><ellipse cx="500" cy="894" rx="17.5" ry="21"/><text x="500" y="900">→</text></g>
<g id="k17-10" class="k dk"><ellipse cx="552" cy="894" rx="17.5" ry="21"/><text x="552" y="900">→</text></g>
<g id="k17-11" class="k dk"><ellipse cx="604" cy="894" rx="17.5" ry="21"/><text x="604" y="900">→</text></g>
<g id="k17-12" class="k dk"><ellipse cx="656" cy="894" rx="17.5" ry="21"/><text x="656" y="900">→</text></g>
<g id="k17-13" class="k dk"><ellipse cx="708" cy="894" rx="17.5" ry="21"/><text x="708" y="900">→</text></g>
<g id="k18-1" class="k lb"><ellipse cx="84" cy="946" rx="17.5" ry="21"/><text x="84" y="952">←</text></g>
<g id="k18-2" class="k lb"><ellipse cx="136" cy="946" rx="17.5" ry="21"/><text x="136" y="952">←</text></g>
<g id="k18-3" class="k lb"><ellipse cx="188" cy="946" rx="17.5" ry="21"/><text x="188" y="952">←</text></g>
<g id="k18-4" class="k lb"><ellipse cx="240" cy="946" rx="17.5" ry="21"/><text x="240" y="952">←</text></g>
<g id="k18-5" class="k lb"><ellipse cx="292" cy="946" rx="17.5" ry="21"/><text x="292" y="952">←</text></g>
<g id="k18-6" class="k lb"><ellipse cx="344" cy="946" rx="17.5" ry="21"/><text x="344" y="952">←</text></g>
<g id="k18-7" class="k lb"><ellipse cx="396" cy="946" rx="17.5" ry="21"/><text x="396" y="952">←</text></g>
<g id="k18-8" class="k lb"><ellipse cx="448" cy="946" rx="17.5" ry="21"/><text x="448" y="952">←</text></g>
<g id="k18-9" class="k lb"><ellipse cx="500" cy="946" rx="17.5" ry="21"/><text x="500" y="952">←</text></g>
<g id="k18-10" class="k lb"><ellipse cx="552" cy="946" rx="17.5" ry="21"/><text x="552" y="952">←</text></g>
<g id="k18-11" class="k lb"><ellipse cx="604" cy="946" rx="17.5" ry="21"/><text x="604" y="952">←</text></g>
<g id="k18-12" class="k lb"><ellipse cx="656" cy="946" rx="17.5" ry="21"/><text x="656" y="952">←</text></g>
<g id="k18-13" class="k lb"><ellipse cx="708" cy="946" rx="17.5" ry="21"/><text x="708" y="952">←</text></g>
</g>
<text class="wm" x="396.5" y="509">BRACELETBOOK.COM</text>
</svg>
